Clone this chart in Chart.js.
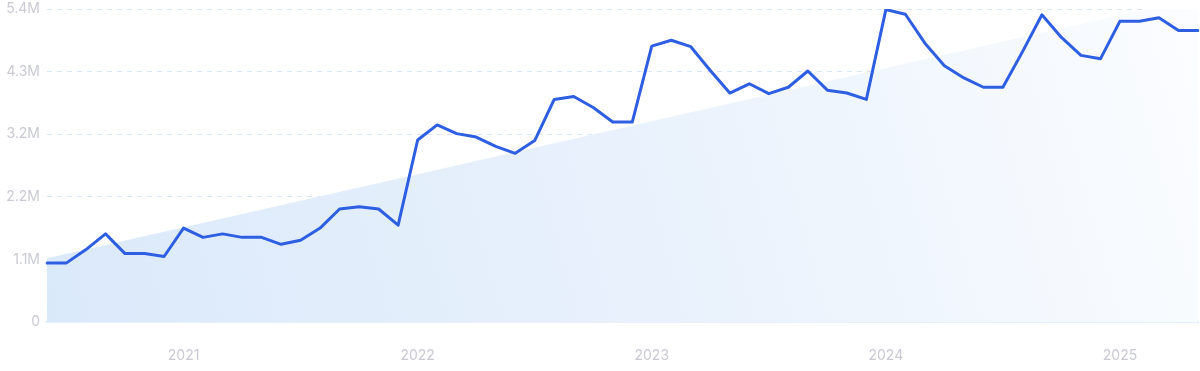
<!DOCTYPE html>
<html>
<head>
<meta charset="utf-8">
<script src="https://cdn.jsdelivr.net/npm/chart.js@4/dist/chart.umd.min.js"></script>
<style>
  html, body { margin: 0; padding: 0; background: #fff; }
  #wrap { width: 1200px; height: 371px; }
</style>
</head>
<body>
<div id="wrap"><canvas id="trendChart" width="1200" height="371"></canvas></div>
<script>
// monthly points, Jun 2020 .. May 2025
const months = [
  'Jun 2020','Jul 2020','Aug 2020','Sep 2020','Oct 2020','Nov 2020','Dec 2020',
  'Jan 2021','Feb 2021','Mar 2021','Apr 2021','May 2021','Jun 2021','Jul 2021','Aug 2021','Sep 2021','Oct 2021','Nov 2021','Dec 2021',
  'Jan 2022','Feb 2022','Mar 2022','Apr 2022','May 2022','Jun 2022','Jul 2022','Aug 2022','Sep 2022','Oct 2022','Nov 2022','Dec 2022',
  'Jan 2023','Feb 2023','Mar 2023','Apr 2023','May 2023','Jun 2023','Jul 2023','Aug 2023','Sep 2023','Oct 2023','Nov 2023','Dec 2023',
  'Jan 2024','Feb 2024','Mar 2024','Apr 2024','May 2024','Jun 2024','Jul 2024','Aug 2024','Sep 2024','Oct 2024','Nov 2024','Dec 2024',
  'Jan 2025','Feb 2025','Mar 2025','Apr 2025','May 2025'
];

// searches, millions
const volume = [
  1.02, 1.02, 1.25, 1.52, 1.18, 1.18, 1.13,
  1.62, 1.46, 1.52, 1.46, 1.46, 1.34, 1.41, 1.62, 1.95, 1.99, 1.95, 1.67,
  3.14, 3.40, 3.25, 3.19, 3.03, 2.91, 3.13, 3.84, 3.89, 3.70, 3.45, 3.45,
  4.76, 4.86, 4.75, 4.34, 3.95, 4.11, 3.94, 4.05, 4.33, 4.00, 3.95, 3.84,
  5.39, 5.31, 4.81, 4.42, 4.21, 4.05, 4.05, 4.66, 5.30, 4.91, 4.60, 4.54,
  5.19, 5.19, 5.25, 5.03, 5.03
];

// trend line end points (millions)
const trendStart = 1.10;
const trendEnd = 5.60;

const yTicks = [0, 1.08, 2.16, 3.24, 4.32, 5.4];

const trend = months.map((_, i) =>
  i === 0 ? trendStart * 1e6 : (i === months.length - 1 ? trendEnd * 1e6 : null)
);

function trendFill(ctx) {
  const area = ctx.chart.chartArea;
  if (!area) return 'rgba(219,234,250,0.9)';
  const g = ctx.chart.ctx.createLinearGradient(area.left, area.bottom, area.right, area.top);
  g.addColorStop(0, '#dae9fa');
  g.addColorStop(0.55, '#eaf2fc');
  g.addColorStop(1, '#fbfdff');
  return g;
}

function fmtM(v) {
  if (v === 0) return '0';
  return (v / 1e6).toFixed(1) + 'M';
}

const tickFont = { family: 'Inter, "Noto Sans", sans-serif', size: 14 };
const tickColor = '#c9cad3';

new Chart(document.getElementById('trendChart').getContext('2d'), {
  type: 'line',
  data: {
    labels: months,
    datasets: [
      {
        label: 'Volume',
        data: volume.map(v => v * 1e6),
        borderColor: '#2e5fe2',
        borderWidth: 3,
        borderJoinStyle: 'round',
        borderCapStyle: 'round',
        pointRadius: 0,
        tension: 0,
        fill: false,
        order: 0
      },
      {
        label: 'Trend',
        data: trend,
        spanGaps: true,
        borderWidth: 0,
        borderColor: 'rgba(0,0,0,0)',
        backgroundColor: trendFill,
        pointRadius: 0,
        fill: 'origin',
        order: 1
      }
    ]
  },
  options: {
    responsive: false,
    animation: false,
    devicePixelRatio: 1,
    layout: { padding: { top: 9, right: 2, left: 0, bottom: 0 } },
    plugins: { legend: { display: false }, tooltip: { enabled: false } },
    scales: {
      x: {
        grid: { display: false },
        border: { display: true, color: '#cfe4fb', width: 1.5 },
        ticks: {
          autoSkip: false,
          maxRotation: 0,
          padding: 17,
          color: tickColor,
          font: tickFont,
          callback: function(val) {
            const lab = this.getLabelForValue(val);
            return lab.startsWith('Jan') ? lab.slice(4) : '';
          }
        },
        afterFit: s => { s.height = 49; s.paddingLeft = 0; s.paddingRight = 0; }
      },
      y: {
        min: 0,
        max: 5.4e6,
        afterBuildTicks: s => { s.ticks = yTicks.map(v => ({ value: v * 1e6 })); },
        grid: {
          drawTicks: false,
          color: c => c.tick && c.tick.value === 0 ? 'rgba(0,0,0,0)' : '#d9e6f6',
          lineWidth: 1
        },
        border: { display: false, dash: [5, 5] },
        ticks: {
          padding: 7,
          color: tickColor,
          font: tickFont,
          callback: v => fmtM(v)
        },
        afterFit: s => { s.width = 47; s.paddingTop = 0; s.paddingBottom = 0; }
      }
    }
  }
});
</script>
</body>
</html>
